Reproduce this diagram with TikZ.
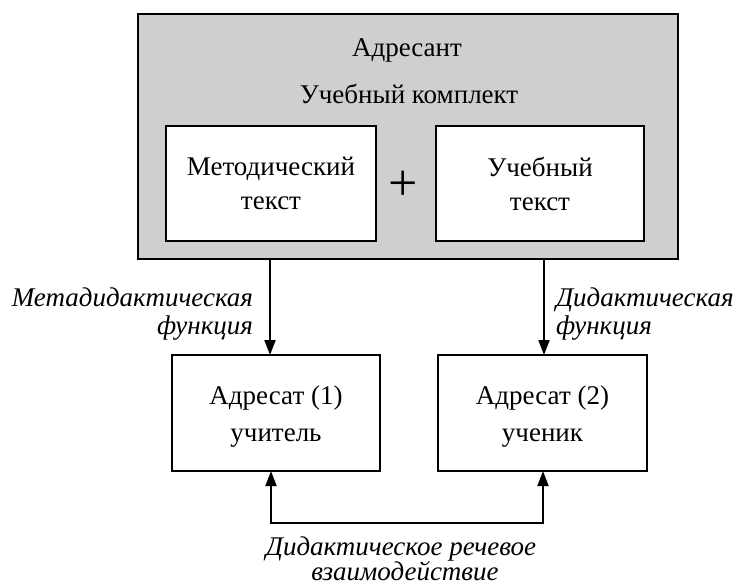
\documentclass[tikz,border=0pt]{standalone}
\usepackage{fontspec}
\setmainfont{Liberation Serif}
\usetikzlibrary{arrows.meta}
\definecolor{boxgray}{RGB}{206,207,209}
\begin{document}
\begin{tikzpicture}[x=1pt,y=-1pt,
  every node/.style={inner sep=0pt,outer sep=0pt},
  txt/.style={font=\fontsize{27}{34}\selectfont,align=center},
  lab/.style={font=\fontsize{27}{28}\selectfont\itshape},
  bx/.style={draw=black,line width=2pt,fill=white,txt},
  conn/.style={line width=2pt,-{Triangle[length=15pt,width=11pt]}},
  conn2/.style={line width=2pt,{Triangle[length=15pt,width=11pt]}-{Triangle[length=15pt,width=11pt]}}]
\useasboundingbox (0,0) rectangle (739,587);
% outer sender box
\node[draw=black,line width=2pt,fill=boxgray,minimum width=540pt,minimum height=245pt] (adr) at (408,136.5) {};
\node[txt] (t1) at (407,50) {Адресант};
\node[txt] (t2) at (409,94) {Учебный комплект};
\node[bx,minimum width=210pt,minimum height=115pt] (met) at (271,183.5) {Методический\\текст};
\node[bx,minimum width=208pt,minimum height=115pt] (ucb) at (540,183.5) {Учебный\\текст};
\node[font=\fontsize{52}{52}\selectfont] (plus) at (403,186) {+};
% receivers
\node[bx,minimum width=208pt,minimum height=116pt] (a1) at (276,413) {};
\node[txt,font=\fontsize{27}{37}\selectfont] (a1t) at (276,417) {Адресат (1)\\учитель};
\node[bx,minimum width=209pt,minimum height=116pt] (a2) at (542.5,413) {};
\node[txt,font=\fontsize{27}{37}\selectfont] (a2t) at (542.5,417) {Адресат (2)\\ученик};
% connectors
\coordinate (xl) at (270,0);
\coordinate (xr) at (544,0);
\draw[conn] (adr.south -| xl) -- (a1.north -| xl);
\draw[conn] (adr.south -| xr) -- (a2.north -| xr);
\coordinate (bl) at (271,523);
\coordinate (br) at (543,523);
\draw[conn2,line join=miter] (a1.south -| bl) -- (bl) -- (br) -- (a2.south -| br);
% labels
\node[lab,align=right,anchor=east] (l1) at (253,314) {Метадидактическая\\функция};
\node[lab,align=left,anchor=west] (l2) at (556,314) {Дидактическая\\функция};
\node[lab,anchor=base] (l3a) at (401,555) {Дидактическое речевое};
\node[lab,anchor=base] (l3b) at (405,580) {взаимодействие};
\end{tikzpicture}
\end{document}
